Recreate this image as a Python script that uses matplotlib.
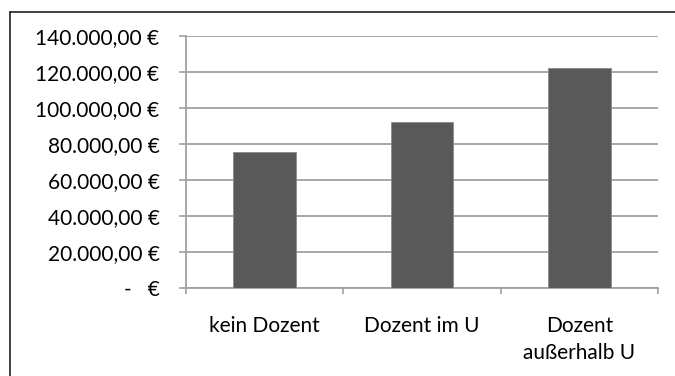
import matplotlib.pyplot as plt
from matplotlib.lines import Line2D
from matplotlib.ticker import FuncFormatter

categories = ["kein Dozent", "Dozent im U", "Dozent\naußerhalb U"]
values = [75400, 92100, 122400]
y_ticks = [0, 20000, 40000, 60000, 80000, 100000, 120000, 140000]

plt.rcParams['font.family'] = ['Lato', 'DejaVu Sans']


def euro(v, pos=None):
    if v == 0:
        return "-   €"
    s = f"{v:,.2f}"
    s = s.replace(",", "X").replace(".", ",").replace("X", ".")
    return s + " €"


fig = plt.figure(figsize=(6.75, 3.76), dpi=100)
ax = fig.add_axes([186 / 675, 1 - 288 / 376, 472 / 675, 252 / 376])

x = list(range(len(categories)))
ax.bar(x, values, width=0.4, color='#595959', edgecolor='#8a8a8a', linewidth=0.6, zorder=3)

ax.set_xlim(-0.5, len(categories) - 0.5)
ax.set_ylim(0, 140000)
ax.set_yticks(y_ticks)
ax.yaxis.set_major_formatter(FuncFormatter(euro))
ax.grid(axis='y', color='#a0a0a0', linewidth=1.3, zorder=0)

ax.set_xticks(x)
ax.set_xticklabels(categories, linespacing=1.45)
ax.set_xticks([-0.5, 0.5, 1.5, 2.5], minor=True)
ax.tick_params(axis='x', which='major', length=0, pad=20, labelsize=15)
ax.tick_params(axis='x', which='minor', length=4.5, width=1.2, color='#a0a0a0')
ax.tick_params(axis='y', length=5, width=1.2, color='#a0a0a0', pad=14, labelsize=15)

for side in ['top', 'right']:
    ax.spines[side].set_visible(False)
for side in ['left', 'bottom']:
    ax.spines[side].set_color('#a0a0a0')
    ax.spines[side].set_linewidth(1.3)

# outer chart frame (only left and top edges visible in the crop)
fig.add_artist(Line2D([10 / 675, 10 / 675], [0, 1 - 12 / 376], color='#222222', linewidth=1.2))
fig.add_artist(Line2D([10 / 675, 1], [1 - 12 / 376, 1 - 12 / 376], color='#222222', linewidth=1.2))

fig.savefig('out.png', dpi=100)
